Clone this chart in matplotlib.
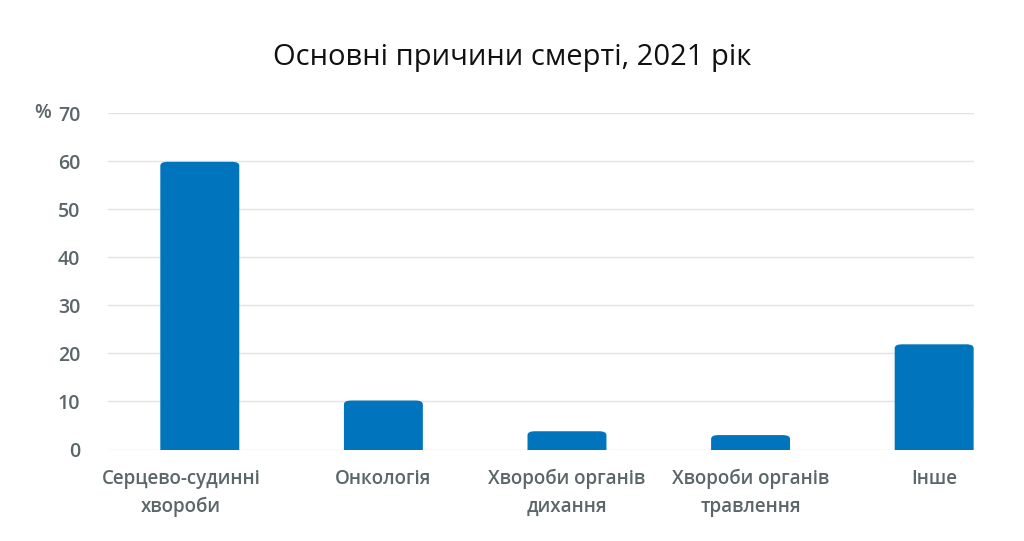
import numpy as np
import matplotlib.pyplot as plt
import matplotlib.transforms as mtransforms
from matplotlib.patches import FancyBboxPatch

# Data (percent of deaths, 2021)
categories = ['Серцево-судинні\nхвороби', 'Онкологія', 'Хвороби органів\nдихання',
              'Хвороби органів\nтравлення', 'Інше']
values = [59.9, 10.2, 3.8, 3.0, 21.9]
yticks = [0, 10, 20, 30, 40, 50, 60, 70]

plt.rcParams['font.family'] = ['Open Sans', 'DejaVu Sans']

bar_color = '#0074bd'
label_color = '#5b6669'

fig = plt.figure(figsize=(10.24, 5.41), dpi=100)
ax = fig.add_axes([108 / 1024, 1 - 449.5 / 541, (974 - 108) / 1024, (449.5 - 113.3) / 541])

x = np.arange(len(categories))
width = 0.43
bars = ax.bar(x, values, width=width, color=bar_color, zorder=3)

# replace plain bars with rounded-top ones
for b in bars:
    bx, by = b.get_x(), b.get_y()
    bw, bh = b.get_width(), b.get_height()
    b.set_visible(False)
    r = 0.04
    patch = FancyBboxPatch((bx, by - 1.5), bw, bh + 1.5,
                           boxstyle='round,pad=0,rounding_size=%f' % r,
                           mutation_aspect=1 / 0.04 * 0.8,
                           facecolor=bar_color, edgecolor='none', zorder=3)
    patch.set_clip_on(True)
    ax.add_patch(patch)

ax.set_xlim(-0.5, 4.217)
ax.set_ylim(0, 70)
ax.set_yticks(yticks)
ax.set_xticks(x)
ax.set_xticklabels(categories, fontsize=13.5, color=label_color, fontweight='semibold',
                   linespacing=1.5)
ax.tick_params(axis='y', labelsize=14, labelcolor=label_color, length=0, pad=20)
ax.tick_params(axis='x', length=0, pad=14)
for t in ax.get_yticklabels():
    t.set_fontweight('semibold')

# first label sits a bit left of its bar in the reference
first = ax.get_xticklabels()[0]
first.set_transform(first.get_transform() +
                    mtransforms.ScaledTranslation(-19 / 100, 0, fig.dpi_scale_trans))

ax.grid(axis='y', color='#e3e3e3', linewidth=1, zorder=0)
for s in ax.spines.values():
    s.set_visible(False)

ax.text(-0.5 - 66 / 184, 70, '%', fontsize=14, color=label_color, fontweight='semibold',
        ha='center', va='center')

fig.text(512 / 1024, 1 - 57 / 541, 'Основні причини смерті, 2021 рік', fontsize=21,
         color='#111111', ha='center', va='center')

fig.savefig('out.png', dpi=100)
